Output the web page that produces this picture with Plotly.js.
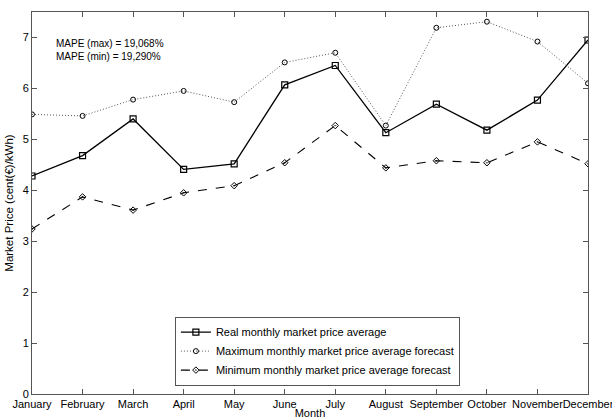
<!DOCTYPE html>
<html>
<head>
<meta charset="utf-8">
<script src="https://cdn.plot.ly/plotly-3.0.1.min.js"></script>
<style>html,body{margin:0;padding:0;background:#fff;}#chart{width:612px;height:419px;}</style>
</head>
<body>
<div id="chart"></div>
<script>
const months = ["January","February","March","April","May","June","July","August","September","October","November","December"];
const realAvg = [4.28, 4.68, 5.40, 4.41, 4.52, 6.07, 6.45, 5.13, 5.69, 5.18, 5.77, 6.95];
const maxForecast = [5.49, 5.46, 5.78, 5.95, 5.73, 6.51, 6.70, 5.27, 7.19, 7.31, 6.92, 6.10];
const minForecast = [3.24, 3.87, 3.61, 3.95, 4.09, 4.54, 5.27, 4.44, 4.58, 4.54, 4.95, 4.52];
const yTicks = [0,1,2,3,4,5,6,7];
const seriesNames = ["Real monthly market price average","Maximum monthly market price average forecast","Minimum monthly market price average forecast"];
const annotationLines = ["MAPE (max) = 19,068%","MAPE (min) = 19,290%"];

const idx = months.map((m,i)=>i);
const traces = [
  {x: idx, y: realAvg, name: seriesNames[0], mode: "lines+markers",
   line: {color: "#000", width: 1.3, dash: "solid"},
   marker: {symbol: "square-open", size: 6, color: "#000", line: {width: 1.2, color:"#000"}}},
  {x: idx, y: maxForecast, name: seriesNames[1], mode: "lines+markers",
   line: {color: "#555", width: 1, dash: "1px,2px"},
   marker: {symbol: "circle-open", size: 5, color: "#000", line: {width: 1, color:"#000"}}},
  {x: idx, y: minForecast, name: seriesNames[2], mode: "lines+markers",
   line: {color: "#000", width: 1.1, dash: "dash"},
   marker: {symbol: "diamond-open-dot", size: 5, color: "#000", line: {width: 1, color:"#000"}}}
];

const font = {family: "Liberation Sans, Arial, sans-serif", size: 11, color: "#000"};
const layout = {
  width: 612, height: 419,
  margin: {l: 32, r: 24, t: 12, b: 25, pad: 0},
  paper_bgcolor: "#fff", plot_bgcolor: "#fff",
  font: font,
  showlegend: true,
  legend: {x: 0.257, y: 0.022, xanchor: "left", yanchor: "bottom",
           bgcolor: "#fff", bordercolor: "#555", borderwidth: 1,
           font: {family: font.family, size: 11, color: "#000"},
           tracegroupgap: 0, itemwidth: 30},
  xaxis: {
    range: [0, 11], tickmode: "array", tickvals: idx, ticktext: months,
    showgrid: false, zeroline: false, showline: true, linecolor: "#555", linewidth: 1,
    mirror: "ticks", ticks: "inside", ticklen: 5, tickcolor: "#555",
    tickfont: font, ticklabeloverflow: "allow", ticklabelstandoff: 0, tickangle: 0,
    title: {text: "Month", font: font, standoff: 0}
  },
  yaxis: {
    range: [0, 7.5], tickmode: "array", tickvals: yTicks,
    showgrid: false, zeroline: false, showline: true, linecolor: "#555", linewidth: 1,
    mirror: "ticks", ticks: "inside", ticklen: 5, tickcolor: "#555",
    tickfont: font,
    title: {text: "Market Price (cent(€)/kWh)", font: {family: font.family, size: 11.5, color: "#000"}, standoff: 6}
  },
  annotations: [{
    xref: "paper", yref: "paper", x: 0.04, y: 0.937, xanchor: "left", yanchor: "top",
    text: annotationLines.join("<br>"), showarrow: false, align: "left",
    font: {family: font.family, size: 10, color: "#000"}
  }]
};
Plotly.newPlot("chart", traces, layout, {displayModeBar: false, staticPlot: true});
</script>
</body>
</html>
